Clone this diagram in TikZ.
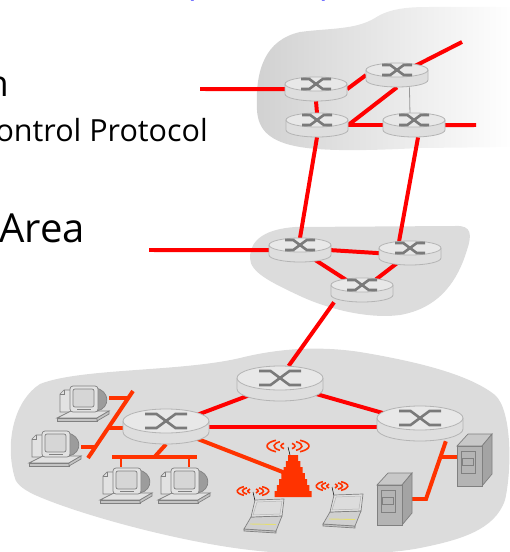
\documentclass[tikz,border=0pt]{standalone}
\usepackage{fontspec}
\setmainfont{Open Sans}
\usetikzlibrary{calc}

\pgfdeclarelayer{cloudlayer}
\pgfdeclarelayer{linklayer}
\pgfsetlayers{cloudlayer,linklayer,main}

\definecolor{wanred}{HTML}{FF0000}
\definecolor{lanred}{HTML}{FF3300}
\definecolor{cloudgray}{HTML}{DCDCDC}
\definecolor{rtrtop}{HTML}{E8E8E8}
\definecolor{rtrside}{HTML}{DEDEDE}
\definecolor{rtrline}{HTML}{B4B4B4}
\definecolor{rtricon}{HTML}{7A7A7A}
\definecolor{devline}{HTML}{808080}
\definecolor{devlight}{HTML}{E2E2E2}
\definecolor{devmid}{HTML}{C4C4C4}
\definecolor{devdark}{HTML}{9C9C9C}
\definecolor{srvfront}{HTML}{B4B4B4}
\definecolor{srvside}{HTML}{A4A4A4}
\definecolor{srvtop}{HTML}{C8C8C8}
\definecolor{titleblue}{HTML}{3C3CFF}

% router disk: rx, ry, thickness, icon half width, icon half height
\newcommand\routerbody[5]{%
  \fill[rtrside] (-#1,0) -- (-#1,#3) arc[start angle=180,end angle=0,x radius=#1,y radius=#2] -- (#1,0) -- cycle;
  \draw[rtrline,line width=0.8] (-#1,0) -- (-#1,#3) arc[start angle=180,end angle=0,x radius=#1,y radius=#2] -- (#1,0);
  \filldraw[draw=rtrline,fill=rtrtop,line width=0.8] (0,0) ellipse[x radius=#1,y radius=#2];
  \draw[rtricon,line width=2.6]
    (-#4,-#5) -- (-0.45*#4,-#5) -- (0.45*#4,#5) -- (#4,#5)
    (-#4,#5) -- (-0.45*#4,#5) -- (0.45*#4,-#5) -- (#4,-#5);
  \node[inner sep=0,minimum width=2*#1,minimum height=2*#2+#3,anchor=north] (-box) at (0,-#2) {};
}

\tikzset{
  wan/.style={draw=wanred,line width=4},
  lan/.style={draw=lanred,line width=4},
  droplink/.style={draw=lanred,line width=2.5},
  wave/.style={draw=lanred,line width=1.6},
  devedge/.style={draw=devline,line width=0.7},
  smallrouter/.pic={\routerbody{31}{7}{10}{15}{5}},
  bigrouter/.pic={\routerbody{43}{12}{11}{21}{7}},
  waves/.pic={
    \foreach \r/\q in {7/3.2,14/5.2,21/7}{
      \draw[wave] ({\r*cos(125)},{\q*sin(125)}) arc[start angle=125,end angle=235,x radius=\r,y radius=\q];
      \draw[wave] ({\r*cos(-55)},{\q*sin(-55)}) arc[start angle=-55,end angle=55,x radius=\r,y radius=\q];
    }
  },
  pc/.pic={
    % system unit behind the screen
    \filldraw[devedge,fill=devlight] (3,9) -- (7,5) -- (17,5) -- (17,27) -- (3,27) -- cycle;
    \draw[devedge] (7,5) -- (7,9) -- (3,9);
    % keyboard plate
    \filldraw[devedge,fill=devlight] (0,33) -- (14,26) -- (52,26) -- (40,33) -- cycle;
    \filldraw[devedge,fill=devmid] (0,33) -- (40,33) -- (40,36) -- (0,36) -- cycle;
    \filldraw[devedge,fill=devmid] (40,33) -- (52,26) -- (52,29) -- (40,36) -- cycle;
    % tube of the monitor
    \filldraw[devedge,fill=devdark] (38,3) .. controls (53,5) and (54,23) .. (40,26) -- cycle;
    % monitor front and screen
    \filldraw[devedge,fill=devlight,rounded corners=3] (13,1) rectangle (41,27);
    \filldraw[devedge,fill=devmid!70!white,rounded corners=2] (16,4) rectangle (37,22);
    \draw[devedge] (20,24.5) -- (34,24.5);
    \node[inner sep=0,minimum width=52,minimum height=37] (-box) at (26,18.5) {};
  },
  laptop/.pic={
    \draw[black,line width=0.5] (11,2) -- (9,-7);
    \filldraw[devedge,fill=devmid] (0,30) -- (32,32) -- (32,34) -- (0,32) -- cycle;
    \filldraw[devedge,fill=devmid!80!white] (7,18) -- (38,17) -- (32,32) -- (0,30) -- cycle;
    \draw[draw=yellow!50!devmid,line width=0.9] (6,25) -- (32,25.5);
    \filldraw[devedge,fill=devlight] (11,1) -- (40,0) -- (38,17) -- (7,18) -- cycle;
    \filldraw[draw=devline!60!white,line width=0.5,fill=devmid!60!white] (13,3) -- (38,2) -- (36,15) -- (9,16) -- cycle;
    \pic[scale=0.75] at (9,-8) {waves};
    \node[inner sep=0,minimum width=40,minimum height=34] (-box) at (20,17) {};
  },
  server/.pic={
    \filldraw[devedge,fill=srvtop] (0,12) -- (11,0) -- (35,0) -- (25,12) -- cycle;
    \filldraw[devedge,fill=srvside] (25,12) -- (35,0) -- (35,40) -- (25,52) -- cycle;
    \filldraw[devedge,fill=srvfront] (0,12) rectangle (25,52);
    \draw[devedge] (4,17) rectangle (18,39);
    \draw[devedge] (5,24) rectangle (16,31);
    \node[inner sep=0,minimum width=35,minimum height=52] (-box) at (17.5,26) {};
  },
  basestation/.pic={
    \fill[lanred] (-5,0) -- (5,0) -- (5,6) -- (7.25,6) -- (7.25,12) -- (9.5,12) -- (9.5,18)
      -- (11.75,18) -- (11.75,24) -- (14,24) -- (14,30) -- (16.25,30) -- (16.25,36)
      -- (18.5,36) -- (18.5,42) -- (-18.5,42) -- (-18.5,36) -- (-16.25,36) -- (-16.25,30)
      -- (-14,30) -- (-14,24) -- (-11.75,24) -- (-11.75,18) -- (-9.5,18) -- (-9.5,12)
      -- (-7.25,12) -- (-7.25,6) -- (-5,6) -- cycle;
    \draw[black,line width=0.5] (-3,0) -- (-5,-8);
    \pic at (-5,-9) {waves};
    \node[inner sep=0,minimum width=37,minimum height=42] (-box) at (0,21) {};
  },
  label/.style={inner sep=0,text=black},
}

\begin{document}
\begin{tikzpicture}[x=1bp,y=-1bp]
\useasboundingbox (0,0) rectangle (510,552);

% ---------- clouds ----------
\begin{pgfonlayer}{cloudlayer}
  \shade[left color=cloudgray!95!black,right color=white]
    (257,110) .. controls (255,70) and (265,40) .. (300,32)
    .. controls (330,28) and (355,30) .. (375,18)
    .. controls (390,8) and (410,7) .. (430,7) -- (515,7) -- (515,147)
    -- (420,148) .. controls (380,150) and (330,152) .. (300,147)
    .. controls (270,142) and (258,130) .. (257,110) -- cycle;
  \fill[cloudgray]
    (250,258) .. controls (250,238) and (268,229) .. (295,227) -- (455,226)
    .. controls (472,225) and (472,235) .. (467,250)
    .. controls (458,280) and (440,308) .. (400,315)
    .. controls (370,319) and (330,310) .. (300,296)
    .. controls (270,282) and (250,272) .. (250,258) -- cycle;
  \fill[cloudgray]
    (14,475) .. controls (5,440) and (15,400) .. (40,384)
    .. controls (80,368) and (180,372) .. (240,358)
    .. controls (280,348) and (320,346) .. (360,352)
    .. controls (420,362) and (470,375) .. (495,395)
    .. controls (512,410) and (512,470) .. (505,500)
    .. controls (495,530) and (460,540) .. (420,548)
    .. controls (380,556) and (300,556) .. (250,550)
    .. controls (180,542) and (80,515) .. (35,495)
    .. controls (20,488) and (15,482) .. (14,475) -- cycle;
\end{pgfonlayer}

% ---------- text ----------
\node[label,text=titleblue,font=\fontsize{36bp}{40bp}\selectfont,anchor=base] (po) at (190,-4.2) {(};
\node[label,text=titleblue,font=\fontsize{36bp}{40bp}\selectfont,anchor=base] (pc) at (326,-4.2) {)};
\node[label,font=\fontsize{36bp}{40bp}\selectfont,anchor=base east] (t1) at (9,97) {n};
\node[label,font=\fontsize{30.5bp}{34bp}\selectfont,anchor=base east] (t2) at (208,142) {ontrol Protocol};
\node[label,font=\fontsize{40bp}{46bp}\selectfont,anchor=base west] (t3) at (-1,242) {Area};

% ---------- routers ----------
\pic (R1) at (316,84) {smallrouter};
\pic (R2) at (397,70) {smallrouter};
\pic (R3) at (317,120) {smallrouter};
\pic (R4) at (414,120) {smallrouter};
\pic (M1) at (300,245) {smallrouter};
\pic (M2) at (410,248) {smallrouter};
\pic (M3) at (362,285) {smallrouter};
\pic (B1) at (280,378) {bigrouter};
\pic (B2) at (166,421) {bigrouter};
\pic (B3) at (420,418) {bigrouter};

% ---------- end devices ----------
\pic (pc1) at (57,385) {pc};
\pic (pc2) at (29,430) {pc};
\pic (pc3) at (100,467) {pc};
\pic (pc4) at (158,467) {pc};
\pic (bs) at (293,455) {basestation};
\pic (lap1) at (244,499) {laptop};
\pic (lap2) at (323,494) {laptop};
\pic (s1) at (457,434) {server};
\pic (s2) at (377,473) {server};

% free ends and bus points
\coordinate (w1) at (200,89);
\coordinate (w2) at (462,42);
\coordinate (w3) at (476,125);
\coordinate (w4) at (149,250);
\coordinate (bt) at (133,391);
\coordinate (bb) at (88,458);
\coordinate (bl) at (112,457);
\coordinate (br) at (197,457);
\coordinate (sbend) at (426,499);

% ---------- links ----------
\begin{pgfonlayer}{linklayer}
  \draw[wan] (w1) -- (R1-box.west);
  \draw[wan] (R1-box.east) -- (R2-box.west);
  \draw[wan] (R2-box.center) -- (w2);
  \draw[wan] (R1-box.south) -- (R3-box.north);
  \draw[wan] (R3-box.east) -- (R2-box.south);
  \draw[wan] (R3-box.east) -- (R4-box.west);
  \draw[draw=gray!80,line width=0.8] ($(R2-box.south)!0.4!(R2-box.south east)$) -- ($(R4-box.north)!0.13!(R4-box.north west)$);
  \draw[wan] (R4-box.east) -- (w3);
  \draw[wan] (R3-box.south) -- (M1-box.north);
  \draw[wan] ($(R4-box.south)!0.13!(R4-box.south east)$) -- ($(M2-box.north)!0.35!(M2-box.north west)$);
  \draw[wan] (w4) -- (M1-box.west);
  \draw[wan] (M1-box.east) -- (M2-box.west);
  \draw[wan] (M1-box.center) -- (M3-box.center);
  \draw[wan] (M2-box.center) -- (M3-box.center);
  \draw[wan] ($(M3-box.south west)!0.1!(M3-box.south)$) -- ($(B1-box.north)!0.2!(B1-box.north east)$);
  \draw[wan] (B1-box.center) -- (B3-box.center);
  \draw[wan] (B2-box.center) -- (B1-box.center);
  \draw[wan] (B2-box.east) -- (B2-box.east -| B3-box.west);
  \draw[lan] (B2-box.center) -- (bs-box.center);
  % shared segment to the left computers
  \draw[lan] (bt) -- (bb);
  \coordinate (lp1) at ($(bt)!0.1!(bb)$);
  \coordinate (lp2) at ($(bt)!0.84!(bb)$);
  \coordinate (lb2) at ($(bt)!0.55!(bb)$);
  \draw[lan] (lp1) -- (lp1 -| pc1-box.east);
  \draw[lan] (lp2) -- (lp2 -| pc2-box.east);
  \draw[lan] (lb2) -- (lb2 -| B2-box.west);
  % shared segment to the lower computers
  \draw[lan] (bl) -- (br);
  \draw[lan] (B2-box.south) -- ($(bl)!0.5!(br)$);
  \coordinate (d3) at ($(bl)!0.106!(br)$);
  \coordinate (d4) at ($(bl)!0.906!(br)$);
  \draw[droplink] (d3) -- (d3 |- pc3-box.north);
  \draw[droplink] (d4) -- (d4 |- pc4-box.north);
  % servers
  \coordinate (sv0) at ($(B3-box.south)!0.6!(B3-box.south east)$);
  \coordinate (sjoin) at ($(sv0)!0.27!(sbend)$);
  \draw[lan] (sv0) -- (sbend) -- (sbend -| s2-box.east);
  \draw[lan] (sjoin) -- (sjoin -| s1-box.west);
\end{pgfonlayer}
\end{tikzpicture}
\end{document}
